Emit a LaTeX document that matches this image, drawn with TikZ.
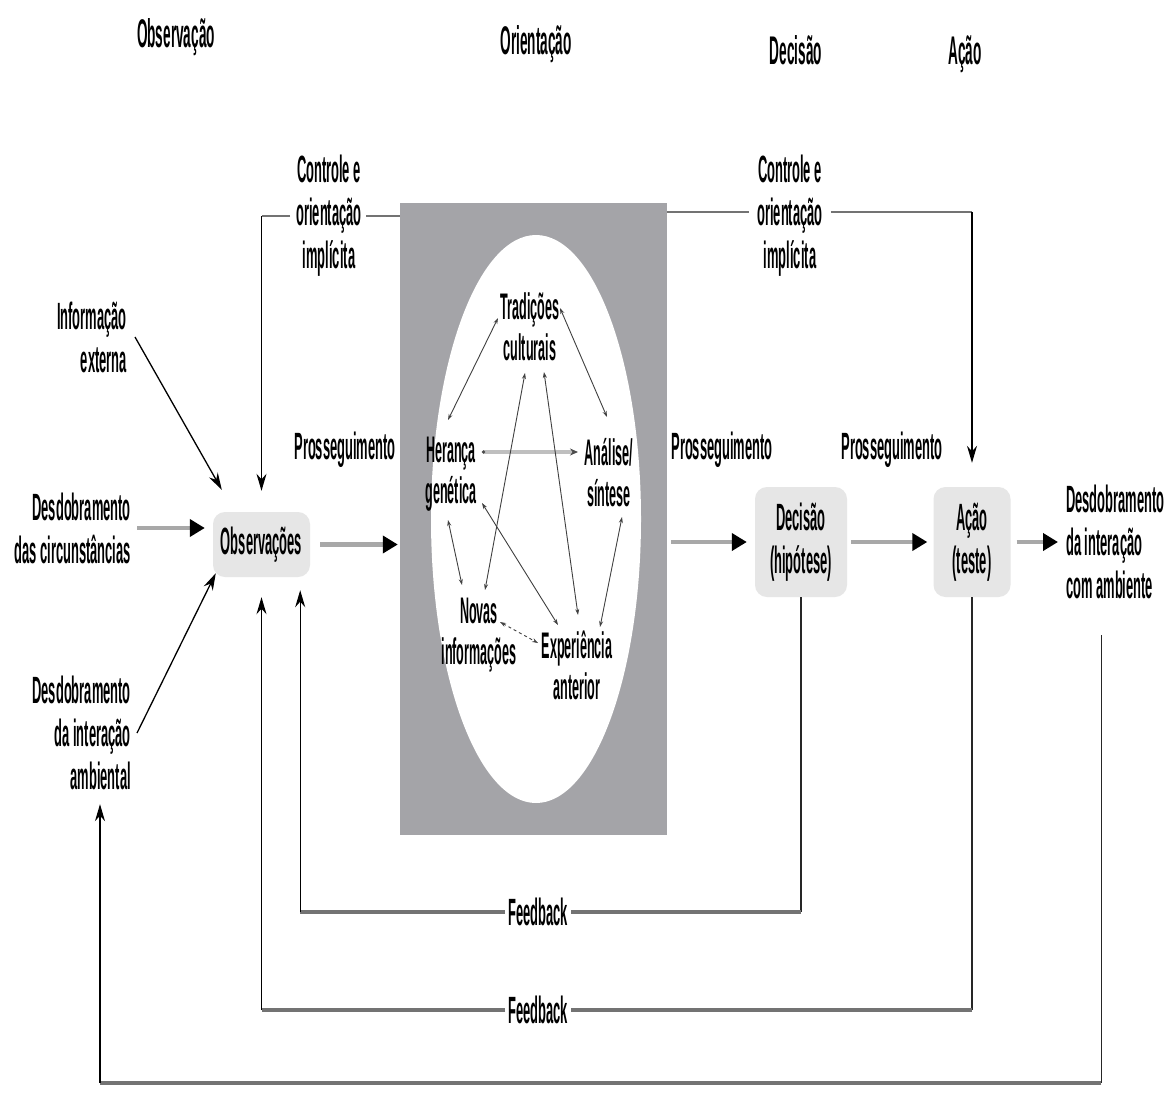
\documentclass[tikz,border=0pt]{standalone}
\usepackage{fontspec}
\setmainfont{Liberation Sans}[FakeStretch=0.34]
\usetikzlibrary{arrows.meta,shapes.geometric}
\definecolor{boxgray}{HTML}{A4A4A8}
\definecolor{procgray}{HTML}{E6E6E6}
\definecolor{shaftgray}{HTML}{A8A8A8}
\begin{document}
\begin{tikzpicture}[x=1pt,y=-1pt,
  txt/.style={font=\fontsize{38}{43}\selectfont\bfseries, align=center, inner sep=0pt},
  head/.style={font=\fontsize{40}{44}\selectfont\bfseries, inner sep=0pt, anchor=base},
  intxt/.style={txt, font=\fontsize{37}{41}\selectfont\bfseries},
  proc/.style={txt, fill=procgray, rounded corners=12pt},
  flow/.style={draw=shaftgray, line width=4.5pt, -{Triangle[length=15pt,width=17pt,color=black]}},
  thinarr/.style={draw=black, line width=1.3pt, -{Stealth[length=17pt,width=10pt]}},
  thinline/.style={draw=black!85, line width=1.2pt},
  ctlh/.style={draw=black!55, line width=2.5pt},
  fbh/.style={draw=black!55, line width=4pt},
  inarr/.style={draw=black!75, line width=0.9pt, {Stealth[length=6pt,width=4pt]}-{Stealth[length=6pt,width=4pt]}},
]
\useasboundingbox (0,0) rectangle (1170,1093);
\fill[white] (0,0) rectangle (1170,1093);

% orientation box and oval
\node[fill=boxgray, minimum width=267pt, minimum height=632pt, inner sep=0pt] (orbox) at (533.5,519) {};
\node[ellipse, fill=white, minimum width=210pt, minimum height=568pt, inner sep=0pt] (oval) at (536,519) {};

% headers
\node[head] (hobs) at (176,47) {Observação};
\node[head] (hori) at (536,54) {Orientação};
\node[head] (hdec) at (796,64) {Decisão};
\node[head] (hac) at (965,64) {Ação};

% process nodes
\node[proc, minimum width=97pt, minimum height=65pt] (obs) at (261.5,544.5) {Observações};
\node[proc, minimum width=92pt, minimum height=110pt] (dec) at (801,542) {Decisão\\(hipótese)};
\node[proc, minimum width=77pt, minimum height=110pt] (acao) at (972,542) {Ação\\(teste)};

% outer labels
\node[txt, anchor=east, align=right] (info) at (127,337) {Informação\\externa};
\node[txt, anchor=east, align=right] (circ) at (131,528) {Desdobramento\\das circunstâncias};
\node[txt, anchor=east, align=right] (amb) at (131,733) {Desdobramento\\da interação\\ambiental};
\node[txt, anchor=west, align=left] (env) at (1066,542) {Desdobramento\\da interação\\com ambiente};
\node[txt] (ctl1) at (329,216) {Controle e\\orientação\\implícita};
\node[txt] (ctl2) at (790,216) {Controle e\\orientação\\implícita};
\node[txt] (p1) at (345,450) {Prosseguimento};
\node[txt] (p2) at (722,450) {Prosseguimento};
\node[txt] (p3) at (892,450) {Prosseguimento};
\node[txt] (fb1) at (538,912) {Feedback};
\node[txt] (fb2) at (538,1010) {Feedback};

% inner nodes
\node[intxt] (trad) at (530,327) {Tradições\\culturais};
\node[intxt] (her) at (451,474) {Herança\\genética};
\node[intxt] (ana) at (609,473) {Análise/\\síntese};
\node[intxt] (nov) at (479,635) {Novas\\informações};
\node[intxt] (expe) at (577,665) {Experiência\\anterior};

% inner connectors
\draw[inarr] ([shift={(-32,-9)}]trad.center) -- ([shift={(-3,-54)}]her.center);
\draw[inarr] ([shift={(30,-19)}]trad.center) -- ([shift={(-2,-56)}]ana.center);
\draw[draw=black!25, line width=4pt, {Circle[length=3pt,color=black!70]}-{Stealth[length=8pt,width=7pt,color=black!70]}] ([shift={(31,-22)}]her.center) -- ([shift={(-31,-21)}]ana.center);
\draw[inarr] ([shift={(-5,46)}]trad.center) -- ([shift={(6,-45)}]nov.center);
\draw[inarr] ([shift={(14,45)}]trad.center) -- ([shift={(1,-50)}]expe.center);
\draw[inarr] ([shift={(31,29)}]her.center) -- ([shift={(-19,-40)}]expe.center);
\draw[inarr] ([shift={(-3,46)}]her.center) -- ([shift={(-17,-50)}]nov.center);
\draw[inarr] ([shift={(13,44)}]ana.center) -- ([shift={(23,-38)}]expe.center);
\draw[inarr, dashed] ([shift={(21,-13)}]nov.center) -- ([shift={(-39,-22)}]expe.center);

% control / implicit guidance
\draw[ctlh] (orbox.west |- ctl1) -- ([xshift=4pt]ctl1.east);
\draw[ctlh] ([xshift=-6pt]ctl1.west) -- (ctl1.west -| obs.north);
\draw[thinarr, shorten >=21pt] (ctl1.west -| obs.north) -- (obs.north);
\draw[ctlh] ([shift={(0,-4)}]orbox.east |- ctl2) -- ([shift={(-8,-4)}]ctl2.west);
\draw[ctlh] ([shift={(8,-4)}]ctl2.east) -- ([shift={(0,-4)}]ctl2.east -| acao.north);
\draw[thinarr, shorten >=24pt] ([shift={(0,-4)}]ctl2.east -| acao.north) -- (acao.north);

% main flow
\draw[flow, shorten <=6pt, shorten >=8pt] (circ.east) -- (circ.east -| obs.west);
\draw[flow, shorten <=10pt, shorten >=2pt] (obs.east) -- (obs.east -| orbox.west);
\draw[flow, shorten <=4pt, shorten >=8pt] (orbox.east |- dec.west) -- (dec.west);
\draw[flow, shorten <=4pt, shorten >=6pt] (dec.east) -- (acao.west);
\draw[flow, shorten <=6pt, shorten >=8pt] (acao.east) -- (acao.east -| env.west);

% external inputs
\draw[thinarr] ([xshift=8pt]info.east) -- ([shift={(9,-22)}]obs.north west);
\draw[thinarr] ([xshift=6pt]amb.east) -- ([shift={(3,-4)}]obs.south west);

% feedback from decision
\coordinate (o2) at ([xshift=-10pt]obs.south east);
\draw[thinline] (dec.south) -- (dec.south |- fb1);
\draw[fbh] (dec.south |- fb1) -- ([xshift=3pt]fb1.east);
\draw[fbh] ([xshift=-3pt]fb1.west) -- (fb1.west -| o2);
\draw[thinarr, shorten >=13pt] (fb1.west -| o2) -- (o2);

% feedback from action
\draw[thinline] (acao.south) -- (acao.south |- fb2);
\draw[fbh] (acao.south |- fb2) -- ([xshift=3pt]fb2.east);
\draw[fbh] ([xshift=-3pt]fb2.west) -- (fb2.west -| obs.south);
\draw[thinarr, shorten >=20pt] (fb2.west -| obs.south) -- (obs.south);

% outer loop
\coordinate (es) at ([shift={(-14,36)}]env.south);
\coordinate (bll) at (100,1083);
\draw[thinline] (es) -- (es |- bll);
\draw[fbh] (es |- bll) -- (bll);
\draw[thinarr, shorten >=14pt] (bll) -- (bll |- amb.south);
\end{tikzpicture}
\end{document}
